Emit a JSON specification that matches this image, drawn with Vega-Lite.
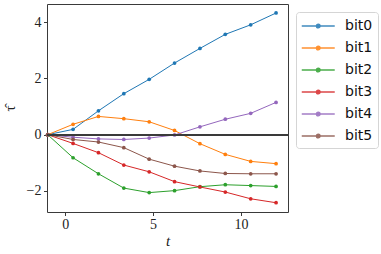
{
  "$schema": "https://vega.github.io/schema/vega-lite/v6.json",
  "width": 241,
  "height": 208,
  "autosize": {"type": "none"},
  "padding": {"left": 47, "top": 4, "right": 93, "bottom": 42},
  "background": "white",
  "config": {
    "view": {"stroke": "#3a3a3a", "strokeWidth": 1},
    "axis": {
      "grid": false,
      "domain": false,
      "tickColor": "#3a3a3a",
      "tickSize": 3.5,
      "tickWidth": 1,
      "labelFont": "Liberation Serif",
      "labelFontSize": 14,
      "labelColor": "#222",
      "titleFont": "Liberation Serif",
      "titleFontSize": 15,
      "titleFontWeight": "normal",
      "titleColor": "#222"
    }
  },
  "data": {
    "values": [
      {"t": -1, "bit": "bit0", "tau": 0},
      {"t": 0.444, "bit": "bit0", "tau": 0.19},
      {"t": 1.889, "bit": "bit0", "tau": 0.85},
      {"t": 3.333, "bit": "bit0", "tau": 1.46},
      {"t": 4.778, "bit": "bit0", "tau": 1.97},
      {"t": 6.222, "bit": "bit0", "tau": 2.55},
      {"t": 7.667, "bit": "bit0", "tau": 3.07},
      {"t": 9.111, "bit": "bit0", "tau": 3.57},
      {"t": 10.556, "bit": "bit0", "tau": 3.91},
      {"t": 12, "bit": "bit0", "tau": 4.33},
      {"t": -1, "bit": "bit1", "tau": 0},
      {"t": 0.444, "bit": "bit1", "tau": 0.37},
      {"t": 1.889, "bit": "bit1", "tau": 0.65},
      {"t": 3.333, "bit": "bit1", "tau": 0.57},
      {"t": 4.778, "bit": "bit1", "tau": 0.46},
      {"t": 6.222, "bit": "bit1", "tau": 0.15},
      {"t": 7.667, "bit": "bit1", "tau": -0.32},
      {"t": 9.111, "bit": "bit1", "tau": -0.7},
      {"t": 10.556, "bit": "bit1", "tau": -0.95},
      {"t": 12, "bit": "bit1", "tau": -1.03},
      {"t": -1, "bit": "bit2", "tau": 0},
      {"t": 0.444, "bit": "bit2", "tau": -0.82},
      {"t": 1.889, "bit": "bit2", "tau": -1.39},
      {"t": 3.333, "bit": "bit2", "tau": -1.9},
      {"t": 4.778, "bit": "bit2", "tau": -2.06},
      {"t": 6.222, "bit": "bit2", "tau": -1.99},
      {"t": 7.667, "bit": "bit2", "tau": -1.85},
      {"t": 9.111, "bit": "bit2", "tau": -1.78},
      {"t": 10.556, "bit": "bit2", "tau": -1.81},
      {"t": 12, "bit": "bit2", "tau": -1.84},
      {"t": -1, "bit": "bit3", "tau": 0},
      {"t": 0.444, "bit": "bit3", "tau": -0.31},
      {"t": 1.889, "bit": "bit3", "tau": -0.64},
      {"t": 3.333, "bit": "bit3", "tau": -1.08},
      {"t": 4.778, "bit": "bit3", "tau": -1.32},
      {"t": 6.222, "bit": "bit3", "tau": -1.67},
      {"t": 7.667, "bit": "bit3", "tau": -1.86},
      {"t": 9.111, "bit": "bit3", "tau": -2.04},
      {"t": 10.556, "bit": "bit3", "tau": -2.28},
      {"t": 12, "bit": "bit3", "tau": -2.42},
      {"t": -1, "bit": "bit4", "tau": 0},
      {"t": 0.444, "bit": "bit4", "tau": -0.09},
      {"t": 1.889, "bit": "bit4", "tau": -0.15},
      {"t": 3.333, "bit": "bit4", "tau": -0.17},
      {"t": 4.778, "bit": "bit4", "tau": -0.12},
      {"t": 6.222, "bit": "bit4", "tau": -0.01},
      {"t": 7.667, "bit": "bit4", "tau": 0.28},
      {"t": 9.111, "bit": "bit4", "tau": 0.55},
      {"t": 10.556, "bit": "bit4", "tau": 0.76},
      {"t": 12, "bit": "bit4", "tau": 1.15},
      {"t": -1, "bit": "bit5", "tau": 0},
      {"t": 0.444, "bit": "bit5", "tau": -0.17},
      {"t": 1.889, "bit": "bit5", "tau": -0.26},
      {"t": 3.333, "bit": "bit5", "tau": -0.46},
      {"t": 4.778, "bit": "bit5", "tau": -0.87},
      {"t": 6.222, "bit": "bit5", "tau": -1.12},
      {"t": 7.667, "bit": "bit5", "tau": -1.29},
      {"t": 9.111, "bit": "bit5", "tau": -1.38},
      {"t": 10.556, "bit": "bit5", "tau": -1.39},
      {"t": 12, "bit": "bit5", "tau": -1.39}
    ]
  },
  "encoding": {
    "x": {
      "field": "t",
      "type": "quantitative",
      "scale": {"domain": [-1.04, 12.68], "nice": false, "zero": false},
      "axis": {"values": [0, 5, 10], "title": "t", "titleFontStyle": "italic", "labelPadding": 2, "titlePadding": 2}
    },
    "y": {
      "field": "tau",
      "type": "quantitative",
      "scale": {"domain": [-2.75, 4.65], "nice": false, "zero": false},
      "axis": {"values": [-2, 0, 2, 4], "title": "τ̂", "labelPadding": 2.5, "titlePadding": 9}
    },
    "color": {
      "field": "bit",
      "type": "nominal",
      "scale": {
        "domain": ["bit0", "bit1", "bit2", "bit3", "bit4", "bit5"],
        "range": ["#1f77b4", "#ff7f0e", "#2ca02c", "#d62728", "#9467bd", "#8c564b"]
      },
      "legend": {
        "title": null,
        "orient": "none",
        "legendX": 249,
        "legendY": 8,
        "padding": 5,
        "strokeColor": "#d5d5d5",
        "fillColor": "white",
        "cornerRadius": 3,
        "symbolType": "M-1,0H3M0.77,0A0.23,0.23,0,1,1,1.23,0A0.23,0.23,0,1,1,0.77,0Z",
        "symbolSize": 272,
        "symbolStrokeWidth": 1.3,
        "symbolOpacity": 0.85,
        "labelFont": "DejaVu Sans",
        "labelFontSize": 14,
        "labelColor": "#111",
        "labelOffset": 26,
        "rowPadding": 6,
        "encode": {
          "symbols": {
            "update": {
              "fill": {"scale": "color", "field": "value"},
              "stroke": {"scale": "color", "field": "value"}
            }
          }
        }
      }
    }
  },
  "layer": [
    {"mark": {"type": "line", "strokeWidth": 1}},
    {"mark": {"type": "point", "filled": true, "size": 14, "opacity": 1}},
    {
      "mark": {"type": "rule", "color": "#3a3a3a", "strokeWidth": 1},
      "encoding": {"y": {"datum": 0}, "x": null, "color": null}
    }
  ]
}
